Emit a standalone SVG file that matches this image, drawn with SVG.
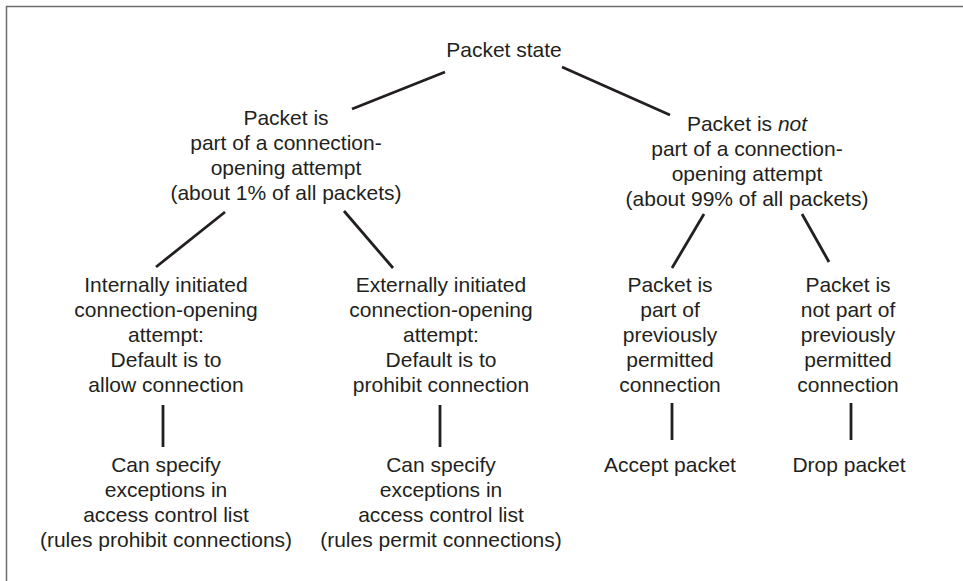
<svg xmlns="http://www.w3.org/2000/svg" width="963" height="581" viewBox="0 0 963 581">
<style>
text{font-family:"Liberation Sans",Arial,Helvetica,sans-serif;font-size:21px;fill:#231f20;text-anchor:middle}
.c line{stroke:#231f20;stroke-width:2.8;stroke-linecap:butt}
</style>
<rect x="0" y="0" width="963" height="581" fill="#fff"/>
<path d="M6.5 581 V6.5 H963" fill="none" stroke="#6d6d6d" stroke-width="1.5"/>
<g class="c" id="connectors">
<line x1="445" y1="72" x2="352" y2="109"/>
<line x1="562" y1="67" x2="670" y2="115"/>
<line x1="225" y1="212" x2="156" y2="267"/>
<line x1="344" y1="211" x2="393" y2="268"/>
<line x1="704" y1="214" x2="672" y2="268"/>
<line x1="802" y1="214" x2="829" y2="262"/>
<line x1="163" y1="405" x2="163" y2="447"/>
<line x1="440" y1="405" x2="440" y2="447"/>
<line x1="672" y1="403" x2="672" y2="440"/>
<line x1="851" y1="403" x2="851" y2="440"/>
</g>
<g id="root"><text x="504" y="57">Packet state</text></g>
<g id="opening"><text x="286" y="125">Packet is</text><text x="286" y="150">part of a connection-</text><text x="286" y="175">opening attempt</text><text x="286" y="200">(about 1% of all packets)</text></g>
<g id="notopening"><text x="747" y="131">Packet is <tspan font-style="italic">not</tspan></text><text x="747" y="156">part of a connection-</text><text x="747" y="181">opening attempt</text><text x="747" y="206">(about 99% of all packets)</text></g>
<g id="internal"><text x="166" y="292">Internally initiated</text><text x="166" y="317">connection-opening</text><text x="166" y="342">attempt:</text><text x="166" y="367">Default is to</text><text x="166" y="392">allow connection</text></g>
<g id="external"><text x="441" y="292">Externally initiated</text><text x="441" y="317">connection-opening</text><text x="441" y="342">attempt:</text><text x="441" y="367">Default is to</text><text x="441" y="392">prohibit connection</text></g>
<g id="permitted"><text x="670" y="292">Packet is</text><text x="670" y="317">part of</text><text x="670" y="342">previously</text><text x="670" y="367">permitted</text><text x="670" y="392">connection</text></g>
<g id="notpermitted"><text x="848" y="292">Packet is</text><text x="848" y="317">not part of</text><text x="848" y="342">previously</text><text x="848" y="367">permitted</text><text x="848" y="392">connection</text></g>
<g id="exc-left"><text x="166" y="472">Can specify</text><text x="166" y="497">exceptions in</text><text x="166" y="522">access control list</text><text x="166" y="547">(rules prohibit connections)</text></g>
<g id="exc-right"><text x="441" y="472">Can specify</text><text x="441" y="497">exceptions in</text><text x="441" y="522">access control list</text><text x="441" y="547">(rules permit connections)</text></g>
<g id="accept"><text x="670" y="472">Accept packet</text></g>
<g id="drop"><text x="849" y="472">Drop packet</text></g>
</svg>
